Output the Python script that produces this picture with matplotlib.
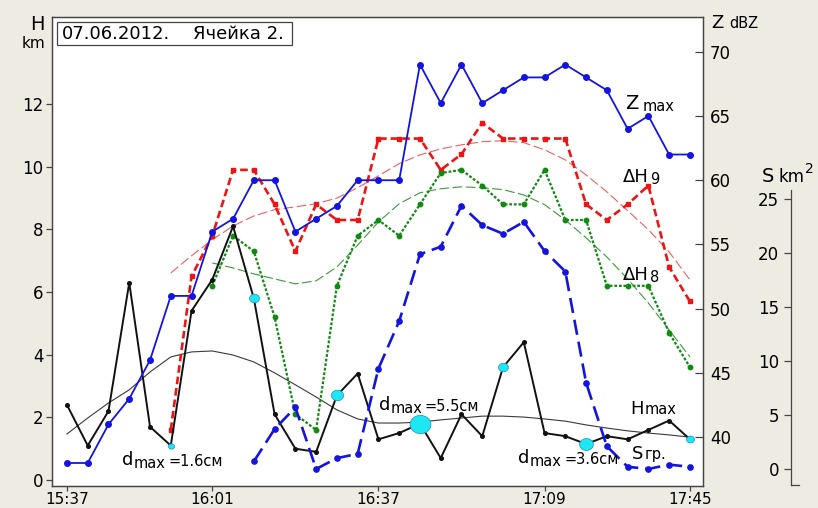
import matplotlib
matplotlib.use('Agg')
import matplotlib.pyplot as plt
import numpy as np
from matplotlib.path import Path
from matplotlib.lines import Line2D
from matplotlib.patches import Rectangle

plt.rcParams['font.family'] = ['DejaVu Sans']
plt.rcParams['lines.scale_dashes'] = False

# ---------------- data ----------------
time_labels = ['15:37', '16:01', '16:37', '17:09', '17:45']
time_label_idx = [0, 7, 15, 23, 30]
scan = list(range(31))

z_max = [38, 38, 41, 43, 46, 51, 51, 56, 57, 60, 60, 56, 57, 58, 60, 60,
         60, 69, 66, 69, 66, 67, 68, 68, 69, 68, 67, 64, 65, 62, 62]

dh9_start = 5
dh9 = [1.6, 6.5, 7.8, 9.9, 9.9, 8.8, 7.3, 8.8, 8.3, 8.3, 10.9, 10.9, 10.9,
       9.9, 10.4, 11.4, 10.9, 10.9, 10.9, 10.9, 8.8, 8.3, 8.8, 9.4, 6.8, 5.7]

dh8_start = 7
dh8 = [6.2, 7.8, 7.3, 5.2, 2.1, 1.6, 6.2, 7.8, 8.3, 7.8, 8.8, 9.8, 9.9, 9.4,
       8.8, 8.8, 9.9, 8.3, 8.3, 6.2, 6.2, 6.2, 4.7, 3.6]

s_start = 9
s_gr = [0.7, 3.7, 5.7, 0.0, 1.0, 1.4, 9.3, 13.7, 19.9, 20.6, 24.4, 22.6,
        21.8, 22.9, 20.2, 18.3, 8.0, 2.1, 0.2, 0.0, 0.4, 0.2]

h_max = [2.4, 1.1, 2.2, 6.3, 1.7, 1.1, 5.4, 6.4, 8.1, 5.8, 2.1, 1.0, 0.9,
         2.7, 3.4, 1.3, 1.5, 1.8, 0.7, 2.1, 1.4, 3.6, 4.4, 1.5, 1.4, 1.15,
         1.4, 1.3, 1.6, 1.9, 1.3]

h_max_trend = [1.47, 1.98, 2.46, 2.88, 3.45, 3.93, 4.09, 4.12, 3.99, 3.77,
               3.42, 3.04, 2.65, 2.24, 1.95, 1.82, 1.82, 1.85, 1.92, 1.98,
               2.04, 2.04, 2.01, 1.95, 1.88, 1.76, 1.66, 1.57, 1.50, 1.44, 1.37]

dh9_trend_start = 5
dh9_trend = [6.61, 7.16, 7.67, 8.11, 8.43, 8.63, 8.72, 8.82, 9.0, 9.33, 9.71,
             10.1, 10.38, 10.57, 10.7, 10.8, 10.83, 10.77, 10.54, 10.22, 9.74,
             9.2, 8.6, 7.99, 7.28, 6.39]

dh8_trend_start = 7
dh8_trend = [6.93, 6.77, 6.58, 6.42, 6.26, 6.36, 6.8, 7.5, 8.24, 8.82, 9.17,
             9.3, 9.36, 9.33, 9.27, 9.1, 8.79, 8.3, 7.73, 7.12, 6.42, 5.65,
             4.79, 3.93]

hail_idx = [5, 9, 13, 17, 21, 25, 30]
hail_d = [1.6, 2.6, 3.2, 5.5, 2.6, 3.6, 2.1]

# ---------------- figure ----------------
W, HH = 818, 508
BG = '#EEEBE3'
SP = '#444444'
BLUE = '#1414E0'
RED = '#EE1414'
GREEN = '#128A12'

H_LIM = (-0.19, 14.78)
S_LIM = (-1.58, 41.89)

fig = plt.figure(figsize=(W / 100, HH / 100), dpi=100)
fig.patch.set_facecolor(BG)
L, R, T, B = 52, 703, 17, 486
ax = fig.add_axes([L / W, 1 - B / HH, (R - L) / W, (B - T) / HH])
ax.set_facecolor('white')
ax.set_xlim(-0.72, 30.63)
ax.set_ylim(*H_LIM)

axz = ax.twinx()
axz.set_ylim(36.21, 72.70)
axs = ax.twinx()
axs.set_ylim(*S_LIM)

for a in (ax, axz, axs):
    for s in a.spines.values():
        s.set_color(SP)
        s.set_linewidth(0.9)

# ticks
ax.set_xticks(time_label_idx)
ax.set_xticklabels(time_labels)
ax.tick_params(axis='x', direction='out', length=3.5, width=0.9, pad=0.8,
               labelsize=11, color=SP)
ax.set_yticks(range(0, 13, 2))
ax.tick_params(axis='y', direction='out', length=4, width=0.9, pad=2,
               labelsize=12, color=SP)

axz.set_yticks(range(40, 71, 5))
axz.tick_params(axis='y', direction='in', length=5.5, width=0.9, pad=5,
                labelsize=12, color=SP)

axs.yaxis.tick_left()
axs.yaxis.set_label_position('left')
for k in ('top', 'bottom', 'right'):
    axs.spines[k].set_visible(False)
axs.spines['left'].set_position(('axes', (791 - L) / (R - L)))
axs.spines['left'].set_bounds(-1.48, 25.85)
axs.set_yticks(range(0, 26, 5))
axs.tick_params(axis='y', direction='out', length=5, width=0.9, pad=3.5,
                labelsize=12, color=SP)
fig.add_artist(Line2D([791 / W, 799 / W], [1 - 485 / HH] * 2, color=SP, lw=0.9))

# trend lines
ax.plot(scan, h_max_trend, color='#3a3a3a', lw=0.8, zorder=2)
ax.plot(scan[dh9_trend_start:], dh9_trend, color='#F06060', lw=0.8,
        dashes=(7, 2.5), zorder=2)
ax.plot(scan[dh8_trend_start:], dh8_trend, color='#3C9A3C', lw=0.8,
        dashes=(7, 2.5), zorder=2)

# main series
ax.plot(scan[dh9_start:], dh9, color=RED, lw=1.9, dashes=(5.5, 2.8),
        marker='s', ms=3, mec=RED, mfc=RED, zorder=3)
ax.plot(scan[dh8_start:], dh8, color=GREEN, lw=1.6, dashes=(2, 1.3),
        marker='o', ms=3.2, mec=GREEN, mfc=GREEN, zorder=3)
ax.plot(scan, h_max, color='#111111', lw=1.4, marker='o', ms=2.6,
        mfc='#111111', mec='#111111', zorder=4)
axz.plot(scan, z_max, color=BLUE, lw=1.3, marker='o', ms=4, mfc=BLUE,
         mec=BLUE, zorder=3)
axs.plot(scan[s_start:], s_gr, color=BLUE, lw=1.9, dashes=(11, 5),
         marker='o', ms=3.8, mfc=BLUE, mec=BLUE, zorder=3)

# hail markers (ellipses) drawn on top of everything, at Hmax height
th = np.linspace(0, 2 * np.pi, 64)
ell = Path(np.column_stack([1.15 * np.cos(th), np.sin(th)]))


def h_to_s(h):
    return (h - H_LIM[0]) / (H_LIM[1] - H_LIM[0]) * (S_LIM[1] - S_LIM[0]) + S_LIM[0]


for i, d in zip(hail_idx, hail_d):
    axs.plot([i], [h_to_s(h_max[i])],
             marker=ell, ms=3.8 * d * 0.72, mfc='#1EE6F2', mec='#1C8FC8',
             mew=0.5, ls='none', zorder=6)

# ---------------- texts ----------------
def fx(x):
    return x / W


def fy(y):
    return 1 - y / HH


def put(x, y, s, size, **kw):
    fig.text(fx(x), fy(y), s, fontsize=size, ha='left', va='baseline',
             color='black', **kw)


# title box
fig.add_artist(Rectangle((fx(57), fy(45)), (292 - 57) / W, (45 - 22) / HH,
                         transform=fig.transFigure, facecolor='white',
                         edgecolor=SP, lw=0.9, zorder=5))
fig.text(fx(62), fy(39), '07.06.2012.', fontsize=13, ha='left',
         va='baseline', zorder=6)
fig.text(fx(193), fy(39), 'Ячейка 2.', fontsize=13, ha='left',
         va='baseline', zorder=6)

# axis titles
put(30, 30, 'H', 14)
put(22, 48, 'km', 11)
put(711, 28, 'Z', 13)
put(729, 28, 'dBZ', 10.5)
put(762, 182, 'S', 14)
put(779, 182, 'km', 12)
put(805, 173, '2', 10)

# series labels
put(625, 109, 'Z', 14)
put(643, 111, 'max', 10.5)
put(623, 182, 'ΔH', 13)
put(650, 184, '9', 10.5)
put(623, 280, 'ΔH', 13)
put(650, 282, '8', 10.5)
put(630, 414, 'H', 13)
put(645, 414, 'max', 10.5)
put(632, 459, 'S', 13)
put(645, 459, 'гр.', 10.5)

put(122, 465, 'd', 13)
put(134, 468, 'max', 10.5)
put(169, 466, '=1.6см', 10.5)
put(379, 410, 'd', 13)
put(390.5, 413, 'max', 10.5)
put(425, 411, '=5.5см', 10.5)
put(518, 463, 'd', 13)
put(529.5, 466, 'max', 10.5)
put(564, 464, '=3.6см', 10.5)

fig.savefig('out.png', dpi=100, facecolor=BG)
